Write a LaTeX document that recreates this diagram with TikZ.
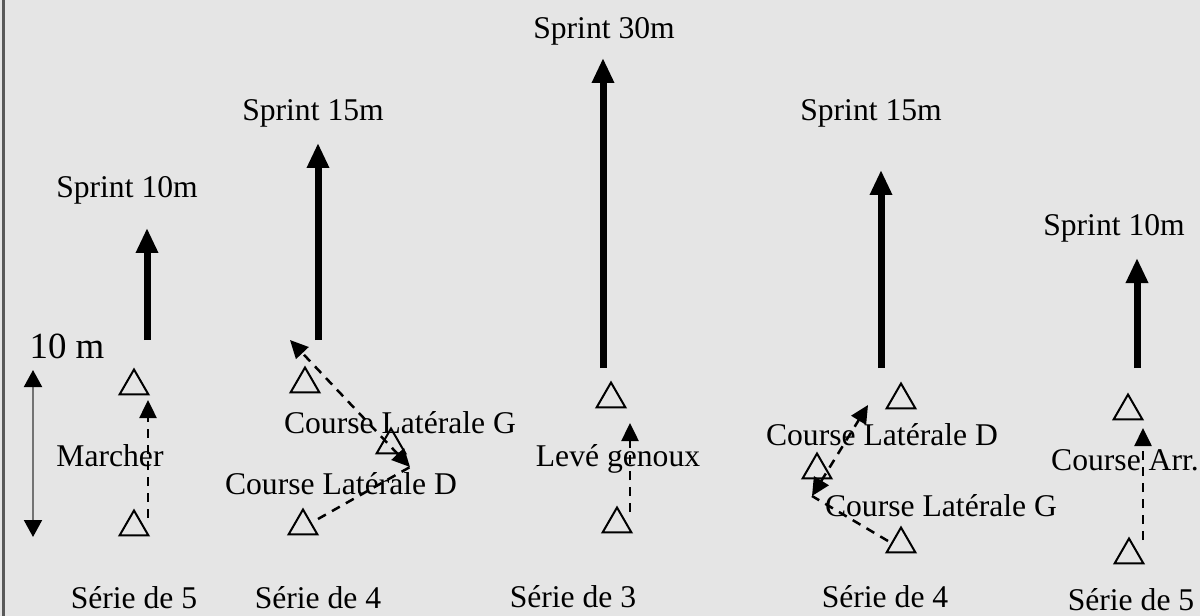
\documentclass[tikz,border=0pt]{standalone}
\usepackage{fontspec}
\setmainfont{Liberation Serif}
\usetikzlibrary{shapes.geometric,arrows.meta}
\definecolor{fond}{HTML}{E5E5E5}

\begin{document}
\begin{tikzpicture}[x=0.2mm,y=-0.2mm,
	cone/.style={draw,regular polygon,regular polygon sides=3,minimum size=6.6mm,inner sep=0pt,line width=0.4mm},
	sprint/.style={line width=1.4mm,-{Triangle[width=4.2mm,length=5mm]}},
	pas/.style={line width=0.5mm,dash pattern=on 1.8mm off 1.4mm},
	lbl/.style={font=\fontsize{18}{20}\selectfont,inner sep=0pt}]
	\fill[fond] (0,0) rectangle (1200,616);
	\useasboundingbox (0,0) rectangle (1200,616);
	\draw[line width=0.6mm,black!65] (3,0)--(3,616);
	% echelle 10 m
	\node[lbl,font=\fontsize{21}{24}\selectfont] (dix) at (67,346) {10 m};
	\coordinate (e1) at (33,370);
	\coordinate (e2) at (33,537);
	\draw[line width=0.4mm,black!55,{Triangle[width=3.6mm,length=3.4mm,color=black]}-{Triangle[width=3.6mm,length=3.4mm,color=black]}] (e1)--(e2);
	% serie 1 : marcher
	\node[lbl] (sp1) at (127,190) {Sprint 10m};
	\node[cone] (c11) at (134,386) {};
	\node[cone] (c12) at (134,527) {};
	\node[lbl] (mar) at (110,456) {Marcher};
	\node[lbl] (se1) at (134,598) {Série de 5};
	\coordinate (a1) at (148,518);
	\coordinate (b1) at (148,400);
	\draw[pas,-{Triangle[width=3.4mm,length=3.6mm]}] (a1)--(b1);
	\coordinate (s1) at (147,340);
	\coordinate (t1) at (147,228);
	\draw[sprint] (s1)--(t1);
	% serie 2 : course laterale
	\node[lbl] (sp2) at (313,113) {Sprint 15m};
	\node[cone] (c21) at (305,384) {};
	\node[cone] (c22) at (391,445) {};
	\node[cone] (c23) at (303,526) {};
	\node[lbl] (clg2) at (400,423) {Course Latérale G};
	\node[lbl] (cld2) at (341,484) {Course Latérale D};
	\node[lbl] (se2) at (318,598) {Série de 4};
	\coordinate (a2) at (318,519);
	\coordinate (p2) at (410,467);
	\coordinate (q2) at (290,340);
	\draw[pas] (a2)--(p2);
	\draw[pas,{Triangle[width=3.4mm,length=3.6mm]}-{Triangle[width=3.4mm,length=3.6mm]}] (p2)--(q2);
	\coordinate (s2) at (318,340);
	\coordinate (t2) at (318,143);
	\draw[sprint] (s2)--(t2);
	% serie 3 : leve genoux
	\node[lbl] (sp3) at (604,31) {Sprint 30m};
	\node[cone] (c31) at (611,399) {};
	\node[cone] (c32) at (617,524) {};
	\node[lbl] (lev) at (618,459) {Levé genoux};
	\node[lbl] (se3) at (573,597) {Série de 3};
	\coordinate (a3) at (630,512);
	\coordinate (b3) at (630,423);
	\draw[pas,-{Triangle[width=3.4mm,length=3.6mm]}] (a3)--(b3);
	\coordinate (s3) at (603,368);
	\coordinate (t3) at (603,58);
	\draw[sprint] (s3)--(t3);
	% serie 4 : course laterale
	\node[lbl] (sp4) at (871,113) {Sprint 15m};
	\node[cone] (c41) at (901,400) {};
	\node[cone] (c42) at (817,470) {};
	\node[cone] (c43) at (901,544) {};
	\node[lbl] (cld4) at (882,435) {Course Latérale D};
	\node[lbl] (clg4) at (941,506) {Course Latérale G};
	\node[lbl] (se4) at (885,597) {Série de 4};
	\coordinate (a4) at (888,541);
	\coordinate (p4) at (812,496);
	\coordinate (q4) at (868,405);
	\draw[pas] (a4)--(p4);
	\draw[pas,{Triangle[width=3.4mm,length=3.6mm]}-{Triangle[width=3.4mm,length=3.6mm]}] (p4)--(q4);
	\coordinate (s4) at (881,368);
	\coordinate (t4) at (881,170);
	\draw[sprint] (s4)--(t4);
	% serie 5 : course arriere
	\node[lbl] (sp5) at (1114,228) {Sprint 10m};
	\node[cone] (c51) at (1128,411) {};
	\node[cone] (c52) at (1129,555) {};
	\node[lbl] (carr) at (1125,460) {Course Arr.};
	\node[lbl] (se5) at (1131,600) {Série de 5};
	\coordinate (a5) at (1143,540);
	\coordinate (b5) at (1143,428);
	\draw[pas,-{Triangle[width=3.4mm,length=3.6mm]}] (a5)--(b5);
	\coordinate (s5) at (1137,368);
	\coordinate (t5) at (1137,258);
	\draw[sprint] (s5)--(t5);
\end{tikzpicture}
\end{document}
